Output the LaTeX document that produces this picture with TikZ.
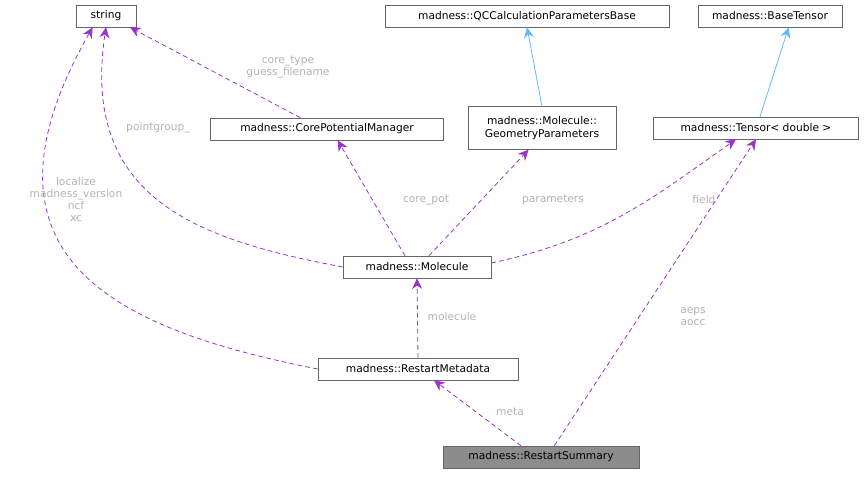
\documentclass[tikz,border=0pt]{standalone}
\usepackage{fontspec}
\setmainfont{DejaVu Sans}
\usetikzlibrary{arrows.meta}
\definecolor{usesPurple}{HTML}{9A32CD}
\definecolor{isaBlue}{HTML}{63B8FF}
\definecolor{boxGray}{HTML}{666666}
\tikzstyle{classBox}=[shape = rectangle, draw = boxGray, fill = white, inner sep = 2pt, minimum height = 16.5pt, font = \fontsize{8}{9.5}\selectfont, align = center]
\tikzstyle{usesEdge}=[draw = usesPurple, line width = 0.6pt, dash pattern = on 3.5pt off 2.5pt, -{Stealth[length = 8pt, width = 7.5pt]}]
\tikzstyle{isaEdge}=[draw = isaBlue, line width = 0.6pt, -{Stealth[length = 8pt, width = 7.5pt]}]
\tikzstyle{edgeLabel}=[text = black!30, font = \fontsize{8}{9}\selectfont, align = center, inner sep = 1pt]

\begin{document}
\begin{tikzpicture}[x = 0.75pt, y = -0.75pt]
\useasboundingbox (0,0) rectangle (865,476);
\node[classBox, minimum width = 45pt] (str) at (106,16) {string};
\node[classBox, minimum width = 213pt] (qcb) at (527,16) {madness::QCCalculationParametersBase};
\node[classBox, minimum width = 108pt] (bt) at (770,16) {madness::BaseTensor};
\node[classBox, minimum width = 175pt] (cpm) at (327,129) {madness::CorePotentialManager};
\node[classBox, minimum width = 111pt, minimum height = 32pt] (geo) at (542,128) {madness::Molecule::\\GeometryParameters};
\node[classBox, minimum width = 154pt] (ten) at (756,128) {madness::Tensor< double >};
\node[classBox, minimum width = 111pt] (mol) at (417,267) {madness::Molecule};
\node[classBox, minimum width = 150pt] (rmd) at (418,369) {madness::RestartMetadata};
\node[classBox, minimum width = 147pt, fill = black!45] (rsum) at (541,457) {madness::RestartSummary};
% inheritance
\draw[isaEdge] (geo.north) -- (qcb.south);
\draw[isaEdge] (ten.north) ++(4,0) -- ([xshift = 14pt]bt.south);
% members
\draw[usesEdge] ([xshift = -20pt]cpm.north) -- ([xshift = 18pt]str.south);
\draw[usesEdge] (mol.west) .. controls (200,240) and (80,200) .. (str.south);
\draw[usesEdge] ([xshift = -9pt]mol.north) -- ([xshift = 8pt]cpm.south);
\draw[usesEdge] ([xshift = 9pt]mol.north) -- ([xshift = -10pt]geo.south);
\draw[usesEdge] ([yshift = 3pt]mol.east) .. controls (600,240) and (650,200) .. ([xshift = -15pt]ten.south);
\draw[usesEdge] (rmd.west) .. controls (120,330) and (-40,260) .. ([xshift = -10pt]str.south);
\draw[usesEdge] (rmd.north) -- (mol.south);
\draw[usesEdge] ([xshift = -15pt]rsum.north) -- ([xshift = 12pt]rmd.south);
\draw[usesEdge] ([xshift = 10pt]rsum.north) -- (ten.south);
% labels
\node[edgeLabel] (l1) at (288,67) {core\_type\\guess\_filename};
\node[edgeLabel] (l2) at (158,128) {pointgroup\_};
\node[edgeLabel] (l3) at (426,200) {core\_pot};
\node[edgeLabel] (l4) at (553,200) {parameters};
\node[edgeLabel] (l5) at (704,200) {field};
\node[edgeLabel] (l6) at (76,200) {localize\\madness\_version\\ncf\\xc};
\node[edgeLabel] (l7) at (452,317) {molecule};
\node[edgeLabel] (l8) at (510,412) {meta};
\node[edgeLabel] (l9) at (693,317) {aeps\\aocc};
\end{tikzpicture}
\end{document}
